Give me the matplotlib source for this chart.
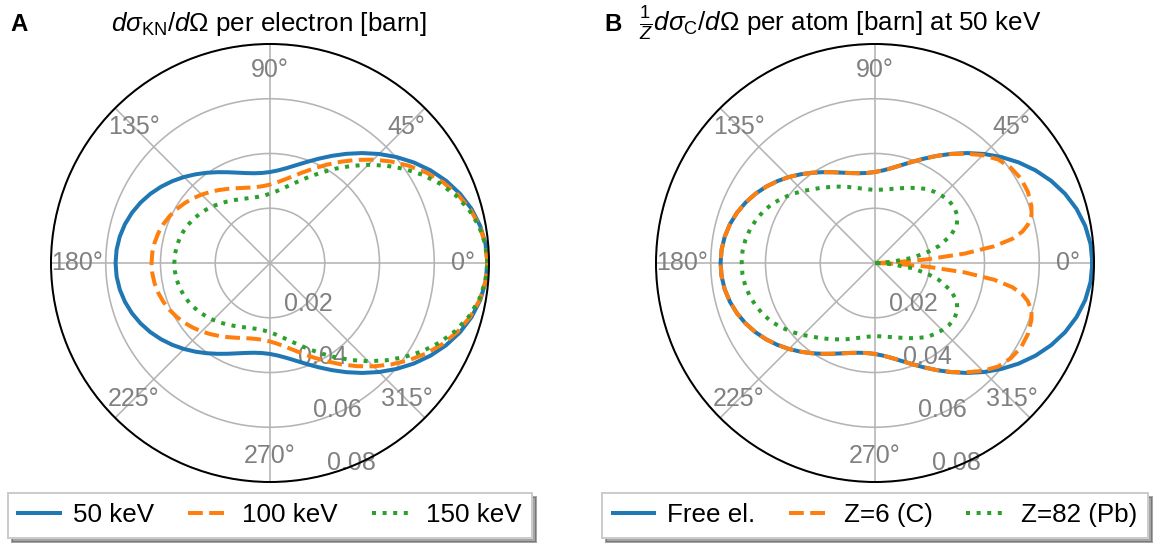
import numpy as np
import matplotlib.pyplot as plt

plt.rcParams['font.family'] = ['Liberation Sans', 'DejaVu Sans']
plt.rcParams['mathtext.fontset'] = 'custom'
plt.rcParams['mathtext.rm'] = 'Liberation Sans'
plt.rcParams['mathtext.it'] = 'Liberation Sans:italic'
plt.rcParams['mathtext.bf'] = 'Liberation Sans:bold'

# scattering angle (deg, upper half; the lower half is the mirror image)
angles = list(range(0, 185, 5))

# panel A: Klein-Nishina per electron [barn]
kn_50 = [0.07941, 0.07905, 0.07798, 0.07624, 0.07389, 0.07101, 0.06770, 0.06407, 0.06024, 0.05632,
         0.05243, 0.04869, 0.04519, 0.04203, 0.03928, 0.03700, 0.03522, 0.03396, 0.03323, 0.03302,
         0.03329, 0.03401, 0.03512, 0.03658, 0.03831, 0.04024, 0.04230, 0.04443, 0.04654, 0.04858,
         0.05049, 0.05219, 0.05366, 0.05485, 0.05572, 0.05625, 0.05641]
kn_100 = [0.07941, 0.07899, 0.07775, 0.07574, 0.07304, 0.06975, 0.06600, 0.06193, 0.05768, 0.05339,
          0.04918, 0.04517, 0.04147, 0.03814, 0.03527, 0.03287, 0.03097, 0.02957, 0.02866, 0.02821,
          0.02818, 0.02852, 0.02918, 0.03011, 0.03124, 0.03253, 0.03391, 0.03533, 0.03674, 0.03810,
          0.03936, 0.04049, 0.04146, 0.04224, 0.04281, 0.04316, 0.04328]
kn_150 = [0.07941, 0.07893, 0.07752, 0.07524, 0.07220, 0.06853, 0.06438, 0.05992, 0.05532, 0.05073,
          0.04629, 0.04212, 0.03831, 0.03493, 0.03203, 0.02962, 0.02771, 0.02628, 0.02531, 0.02475,
          0.02456, 0.02470, 0.02510, 0.02572, 0.02650, 0.02740, 0.02838, 0.02938, 0.03038, 0.03133,
          0.03222, 0.03301, 0.03369, 0.03423, 0.03463, 0.03487, 0.03495]

# panel B: 50 keV, bound electrons, per atom / Z [barn]
angles_c = [0, 2, 4, 6, 8, 10, 12, 14, 17, 20] + list(range(25, 185, 5))
carbon = [0.0, 0.007, 0.019, 0.033, 0.044, 0.051, 0.055, 0.0575, 0.0598, 0.0608,
          0.0616, 0.0616, 0.0606, 0.0588, 0.0557, 0.0521, 0.0486, 0.04519, 0.04203, 0.03928,
          0.03700, 0.03522, 0.03396, 0.03323, 0.03302, 0.03329, 0.03401, 0.03512, 0.03658,
          0.03831, 0.04024, 0.04230, 0.04443, 0.04654, 0.04858, 0.05049, 0.05219, 0.05366,
          0.05485, 0.05572, 0.05625, 0.05641]
angles_pb = [0, 4, 8, 12, 15, 20] + list(range(25, 185, 5))
lead = [0.0, 0.006, 0.014, 0.020, 0.0243, 0.0295,
        0.0330, 0.0347, 0.0354, 0.0353, 0.0347, 0.0339, 0.0330, 0.0316, 0.0303, 0.0291,
        0.0281, 0.0274, 0.0269, 0.0267, 0.0270, 0.0276, 0.0285, 0.0296, 0.0308, 0.0321,
        0.0336, 0.0352, 0.0372, 0.0393, 0.0413, 0.0433, 0.0449, 0.0462, 0.0473, 0.0481,
        0.0486, 0.0487]

labels_a = ['50 keV', '100 keV', '150 keV']
labels_b = ['Free el.', 'Z=6 (C)', 'Z=82 (Pb)']
rticks = [0.02, 0.04, 0.06, 0.08]

colors = ['#1f77b4', '#ff7f0e', '#2ca02c']
styles = ['-', '--', ':']


def mirror(deg, vals):
    deg = np.asarray(deg, dtype=float)
    vals = np.asarray(vals, dtype=float)
    th = np.concatenate([deg, 360 - deg[::-1][1:]])
    return np.deg2rad(th), np.concatenate([vals, vals[::-1][1:]])


fig = plt.figure(figsize=(1155 / 144, 552 / 144), dpi=144)
ax_a = fig.add_axes([51 / 1155, 1 - 482 / 552, 438 / 1155, 438 / 552], projection='polar')
ax_b = fig.add_axes([656 / 1155, 1 - 482 / 552, 438 / 1155, 438 / 552], projection='polar')

series_a = [(angles, kn_50), (angles, kn_100), (angles, kn_150)]
series_b = [(angles, kn_50), (angles_c, carbon), (angles_pb, lead)]

for ax, series, labels in [(ax_a, series_a, labels_a), (ax_b, series_b, labels_b)]:
    for (deg, vals), lab, c, ls in zip(series, labels, colors, styles):
        th, r = mirror(deg, vals)
        ax.plot(th, r, color=c, ls=ls, lw=2, label=lab)
    ax.set_ylim(0, 0.08)
    ax.set_rticks(rticks)
    ax.set_yticklabels([f'{t:.2f}' for t in rticks])
    ax.set_rlabel_position(285)
    ax.set_thetagrids(range(0, 360, 45))
    ax.set_axisbelow(True)
    ax.grid(color='#b4b4b4', lw=0.8)
    ax.tick_params(axis='x', pad=-23.5, labelcolor='gray', labelsize=12.5)
    ax.tick_params(axis='y', labelcolor='gray', labelsize=12.5)
    ax.spines['polar'].set_linewidth(1.0)
    ax.legend(loc='upper center', bbox_to_anchor=(0.5, 0.005), ncol=3, fancybox=False,
              shadow=True, framealpha=1, fontsize=13, handlelength=1.6,
              handletextpad=0.5, columnspacing=1.3)

fig.text(269 / 1155, 1 - 31 / 552, r'$d\sigma_{\mathrm{KN}}/d\Omega$ per electron [barn]',
         fontsize=13, ha='center', va='baseline')
fig.text(840 / 1155, 1 - 31 / 552, r'$\frac{1}{Z}d\sigma_{\mathrm{C}}/d\Omega$ per atom [barn] at 50 keV',
         fontsize=13, ha='center', va='baseline')
fig.text(10 / 1155, 1 - 31 / 552, 'A', fontsize=12, fontweight='bold', va='baseline')
fig.text(604 / 1155, 1 - 31 / 552, 'B', fontsize=12, fontweight='bold', va='baseline')

fig.savefig('out.png', dpi=144)
